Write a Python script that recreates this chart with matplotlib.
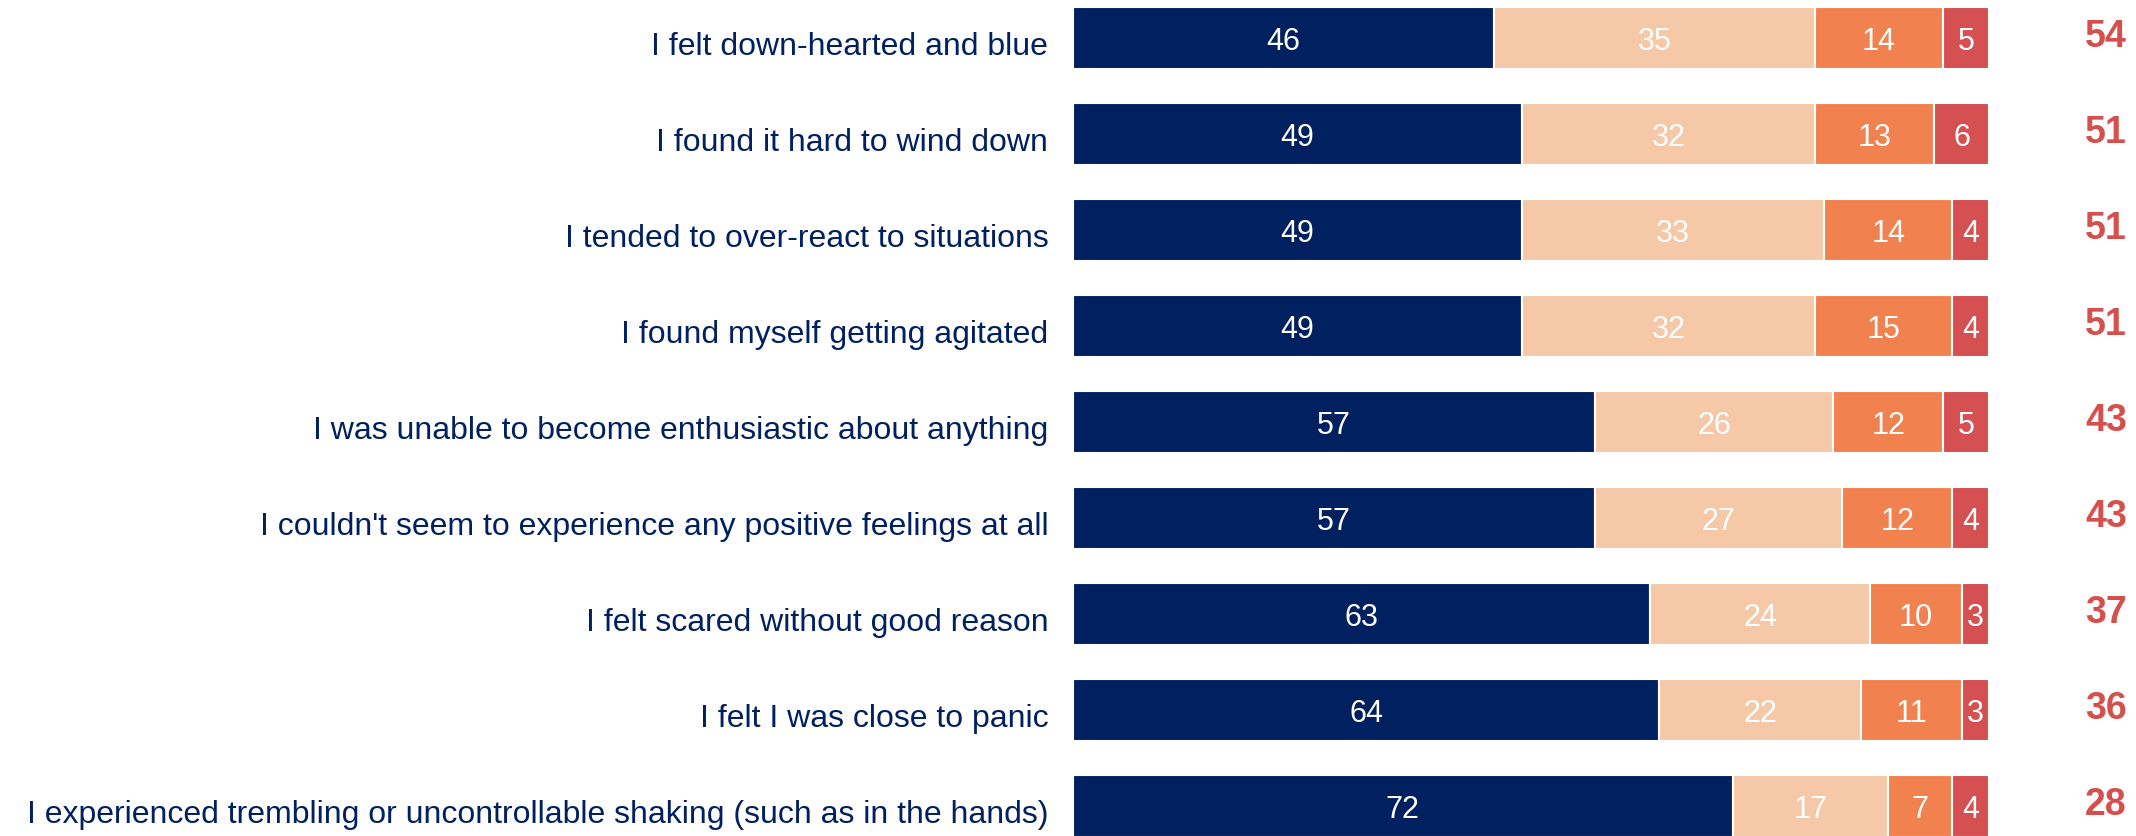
import matplotlib.pyplot as plt
import numpy as np

# Share of respondents per response level, one row per statement (top to bottom)
statements = [
    "I felt down-hearted and blue",
    "I found it hard to wind down",
    "I tended to over-react to situations",
    "I found myself getting agitated",
    "I was unable to become enthusiastic about anything",
    "I couldn't seem to experience any positive feelings at all",
    "I felt scared without good reason",
    "I felt I was close to panic",
    "I experienced trembling or uncontrollable shaking (such as in the hands)",
]
never = [46, 49, 49, 49, 57, 57, 63, 64, 72]
sometimes = [35, 32, 33, 32, 26, 27, 24, 22, 17]
often = [14, 13, 14, 15, 12, 12, 10, 11, 7]
most_of_time = [5, 6, 4, 4, 5, 4, 3, 3, 4]
any_frequency = [54, 51, 51, 51, 43, 43, 37, 36, 28]

NAVY = "#012060"
colors = [NAVY, "#F5C9A7", "#F28150", "#D55050"]
TOTAL_COLOR = "#D5504C"

plt.rcParams["font.family"] = ["Liberation Sans", "DejaVu Sans"]

fig = plt.figure(figsize=(21.36, 8.36), dpi=100)
ax = fig.add_axes([1073 / 2136, 0, (1989 - 1073) / 2136, 1])

y = np.arange(len(statements))
left = np.zeros(len(statements))
for series, color in zip([never, sometimes, often, most_of_time], colors):
    vals = np.array(series, dtype=float)
    ax.barh(y, vals, left=left, height=0.646, color=color,
            edgecolor="white", linewidth=1.5)
    for yi, l, v in zip(y, left, vals):
        ax.text(l + v / 2, yi + 0.01, f"{v:.0f}", ha="center",
                va="center_baseline", color="white", fontsize=22)
    left += vals

for yi, label in zip(y, statements):
    ax.text(-2.7, yi + 0.06, label, ha="right", va="center_baseline",
            color=NAVY, fontsize=23)

for yi, t in zip(y, any_frequency):
    ax.text(110.5, yi - 0.05, f"{t}", ha="left", va="center_baseline",
            color=TOTAL_COLOR, fontsize=27, fontweight="bold")

ax.set_xlim(0, 100)
ax.set_ylim(8.3125, -0.396)
ax.axis("off")

fig.savefig("out.png", dpi=100)
